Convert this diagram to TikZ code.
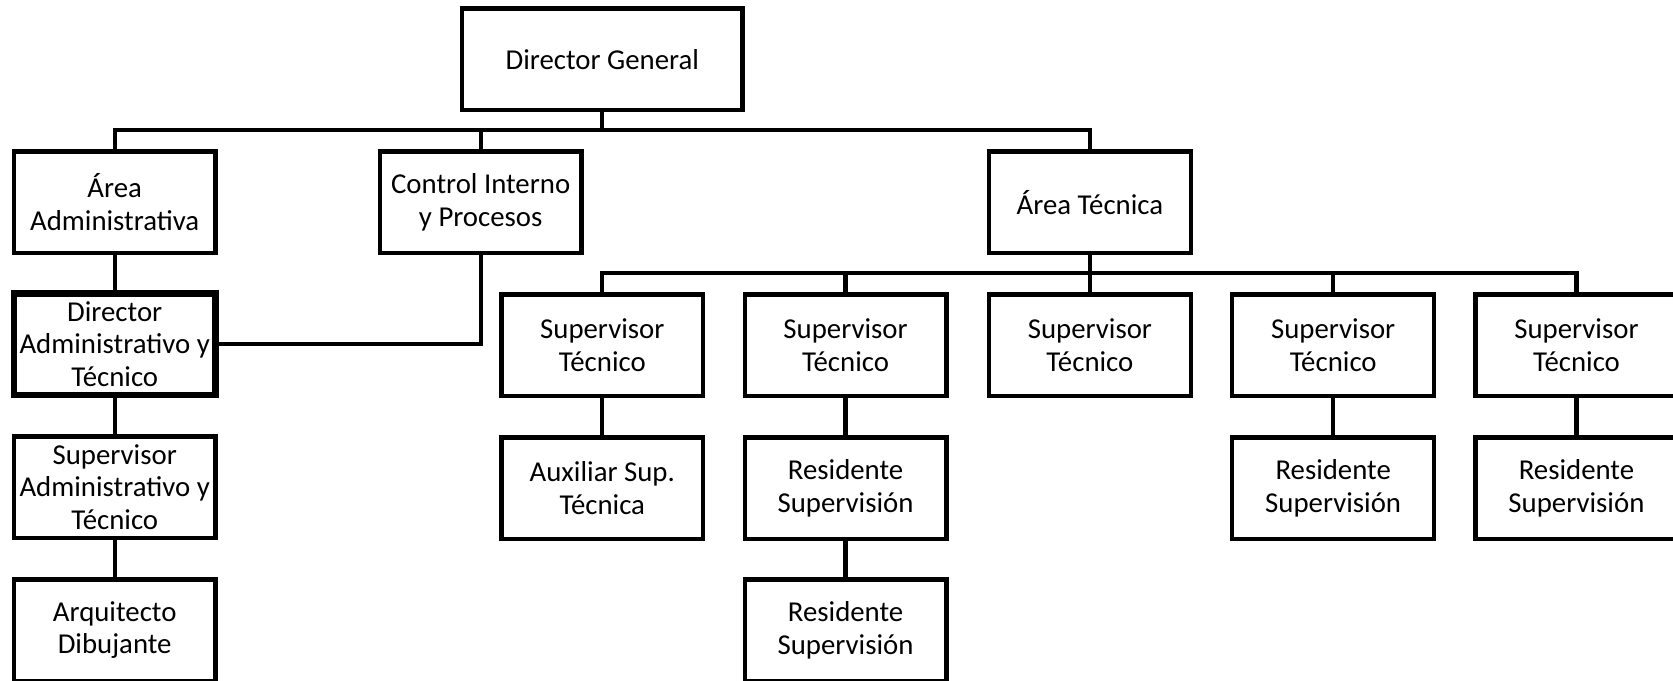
\documentclass[tikz,border=0pt]{standalone}
\usepackage{fontspec}
\setmainfont{Carlito}
\begin{document}
\begin{tikzpicture}[x=1pt,y=-1pt,
  box/.style={draw, line width=4pt, minimum width=189pt, minimum height=95pt, inner sep=0pt, align=center, font=\fontsize{27}{30.5}\selectfont},
  conn/.style={line width=4pt, line cap=rect, line join=miter}]
\useasboundingbox (0,0) rectangle (1568,638);
\clip (0,0) rectangle (1568,638);
\fill[white] (0,0) rectangle (1568,638);
% top level
\node[box, minimum width=263pt] (dg) at (564.5,55.5) {Director General};
\node[box] (aa) at (107.5,189.5) {Área\\Administrativa};
\node[box] (ci) at (450.5,189.5) {Control Interno\\y Procesos};
\node[box] (at) at (1021.5,189.5) {Área Técnica};
% left column
\node[box, line width=6pt] (da) at (107.5,322.5) {Director\\Administrativo y\\Técnico};
\node[box] (sa) at (107.5,456.5) {Supervisor\\Administrativo y\\Técnico};
\node[box] (ad) at (107.5,590.5) {Arquitecto\\Dibujante};
% technical supervisors
\node[box] (s1) at (564.5,323.5) {Supervisor\\Técnico};
\node[box] (s2) at (792.5,323.5) {Supervisor\\Técnico};
\node[box] (s3) at (1021.5,323.5) {Supervisor\\Técnico};
\node[box] (s4) at (1249.5,323.5) {Supervisor\\Técnico};
\node[box] (s5) at (1477.5,323.5) {Supervisor\\Técnico};
% second row
\node[box] (ax) at (564.5,457.5) {Auxiliar Sup.\\Técnica};
\node[box] (r2) at (792.5,457.5) {Residente\\Supervisión};
\node[box] (r4) at (1249.5,457.5) {Residente\\Supervisión};
\node[box] (r5) at (1477.5,457.5) {Residente\\Supervisión};
\node[box] (r3) at (792.5,590.5) {Residente\\Supervisión};
% buses
\coordinate (b1) at (564.5,122);
\coordinate (b2) at (1021.5,256);
\draw[conn] (dg.south) -- (dg.south |- b1);
\draw[conn] (aa.north) -- (aa.north |- b1) -- (at.north |- b1) -- (at.north);
\draw[conn] (ci.north) -- (ci.north |- b1);
\draw[conn] (aa.south) -- (da.north);
\draw[conn] (ci.south) |- (da.east);
\draw[conn] (da.south) -- (sa.north);
\draw[conn] (sa.south) -- (ad.north);
\draw[conn] (at.south) -- (at.south |- b2);
\draw[conn] (s1.north) -- (s1.north |- b2) -- (s5.north |- b2) -- (s5.north);
\draw[conn] (s2.north) -- (s2.north |- b2);
\draw[conn] (s3.north) -- (s3.north |- b2);
\draw[conn] (s4.north) -- (s4.north |- b2);
\draw[conn] (s1.south) -- (ax.north);
\draw[conn] (s2.south) -- (r2.north);
\draw[conn] (r2.south) -- (r3.north);
\draw[conn] (s4.south) -- (r4.north);
\draw[conn] (s5.south) -- (r5.north);
\end{tikzpicture}
\end{document}
